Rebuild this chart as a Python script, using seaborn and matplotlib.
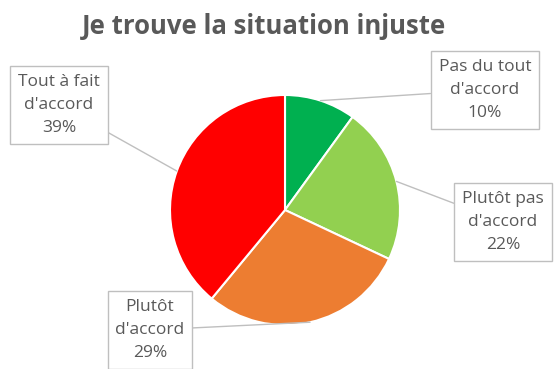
import matplotlib
matplotlib.use("Agg")
import numpy as np
import seaborn as sns
from matplotlib import pyplot as plt

# data
labels = ["Pas du tout\nd'accord", "Plutôt pas\nd'accord", "Plutôt\nd'accord", "Tout à fait\nd'accord"]
values = [10, 22, 29, 39]
colors = ["#00B050", "#92D050", "#ED7D31", "#FF0000"]
title = "Je trouve la situation injuste"

# where each label box sits (figure pixels, origin bottom-left)
label_pos = [(485, 369 - 90), (503, 369 - 222), (150, 369 - 330), (59, 369 - 105)]

sns.set_theme(style="white")
plt.rcParams["font.family"] = ["Open Sans", "DejaVu Sans"]

W, H = 560, 369
fig = plt.figure(figsize=(W / 100, H / 100), dpi=100)
cx, cy, r = 285, 369 - 210, 115
ax = fig.add_axes([(cx - r) / W, (cy - r) / H, 2 * r / W, 2 * r / H])

wedges, _ = ax.pie(values, colors=colors, startangle=90, counterclock=False,
                   wedgeprops=dict(edgecolor="white", linewidth=1.5))
ax.set_xlim(-1, 1)
ax.set_ylim(-1, 1)
ax.set_aspect("equal")

for w, lab, v, pos in zip(wedges, labels, values, label_pos):
    ang = np.deg2rad((w.theta1 + w.theta2) / 2)
    ax.annotate(f"{lab}\n{v}%", xy=(np.cos(ang), np.sin(ang)), xycoords="data",
                xytext=pos, textcoords="figure pixels",
                ha="center", va="center", fontsize=12.5, color="#595959", linespacing=1.6,
                bbox=dict(boxstyle="square,pad=0.45", fc="white", ec="#BFBFBF", lw=1),
                arrowprops=dict(arrowstyle="-", color="#BFBFBF", lw=1, shrinkA=0, shrinkB=0),
                annotation_clip=False)

fig.text(264 / W, 1 - 27 / H, title, ha="center", va="center",
         fontsize=18.5, fontweight="bold", color="#595959")

fig.savefig("out.png", dpi=100)
